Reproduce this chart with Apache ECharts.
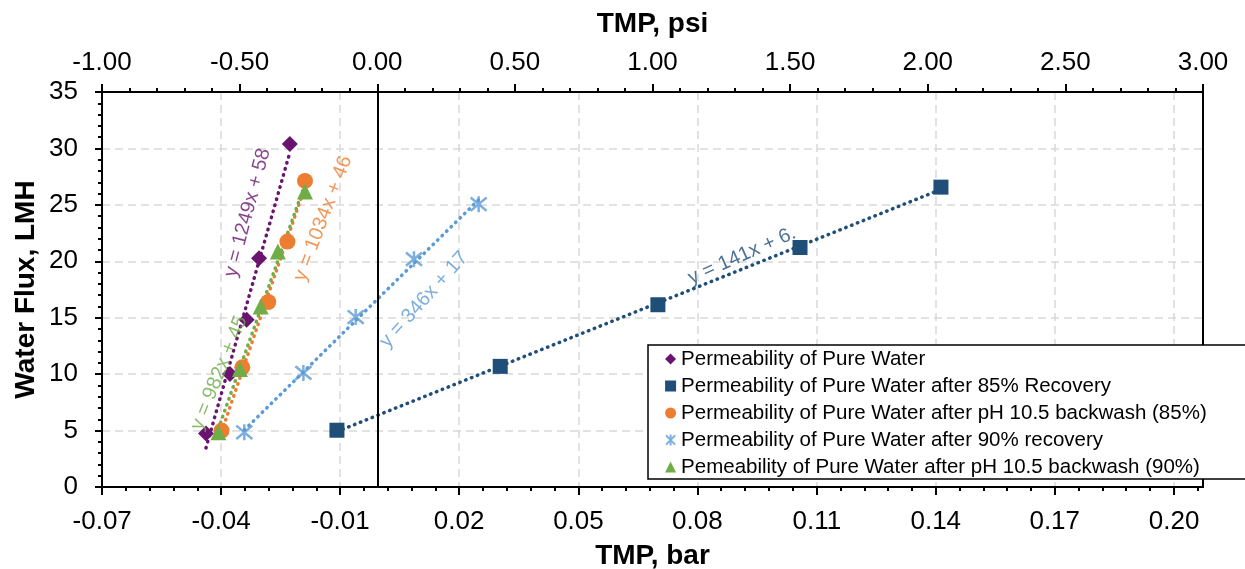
<!DOCTYPE html>
<html>
<head>
<meta charset="utf-8">
<script src="https://cdn.jsdelivr.net/npm/echarts@6/dist/echarts.min.js"></script>
<style>
html,body{margin:0;padding:0;background:#fff;}
#chart{width:1245px;height:569px;}
</style>
</head>
<body>
<div id="chart"></div>
<script>
// ---------- DATA (TMP in bar, flux in LMH) ----------
const seriesNames = [
  'Permeability of Pure Water',
  'Permeability of Pure Water after 85% Recovery',
  'Permeability of Pure Water after pH 10.5 backwash (85%)',
  'Permeability of Pure Water after 90% recovery',
  'Pemeability of Pure Water after pH 10.5 backwash (90%)'
];
const pureX  = [-0.0429, -0.0369, -0.0327, -0.0296, -0.0219];
const pureY  = [4.73, 10.02, 14.82, 20.28, 30.40];
const rec85X = [-0.0101, 0.0308, 0.0703, 0.1059, 0.1412];
const rec85Y = [5.03, 10.69, 16.15, 21.22, 26.57];
const bw85X  = [-0.0390, -0.0338, -0.0273, -0.0225, -0.0181];
const bw85Y  = [5.00, 10.60, 16.39, 21.75, 27.12];
const rec90X = [-0.0333, -0.0185, -0.0054, 0.0092, 0.0254];
const rec90Y = [4.85, 10.11, 15.06, 20.19, 25.06];
const bw90X  = [-0.0398, -0.0344, -0.0292, -0.0249, -0.0181];
const bw90Y  = [4.85, 10.46, 16.00, 20.87, 26.18];

// trendline equation labels (text and anchor in data coords)
const trendTexts  = ['y = 1249x + 58', 'y = 141x + 6.', 'y = 1034x + 46', 'y = 346x + 17', 'y = 982x + 45'];
const trendLabelX = [-0.0325, 0.0914, -0.0136, 0.0117, -0.0396];
const trendLabelY = [24.3, 20.5, 23.8, 16.6, 10.1];
const trendLabelAngle = [75, 24, 69, 48, 68];

// axes: bottom in bar (= -1..3 psi), top in psi
const barMin = -0.0689476, barMax = 0.2068427;
const barTickValues = [-0.0689, -0.0391, -0.0093, 0.0205, 0.0504, 0.0802, 0.1101, 0.1399, 0.1697, 0.1996];
const barTickLabels = ['-0.07', '-0.04', '-0.01', '0.02', '0.05', '0.08', '0.11', '0.14', '0.17', '0.20'];
const psiMin = -1, psiMax = 3, psiStep = 0.5;
const fluxMin = 0, fluxMax = 35, fluxStep = 5;

// ---------- STYLE ----------
const colors  = ['#6A1470', '#1F4E79', '#ED7D31', '#5B9BD5', '#70AD47'];
const starPath = 'path://M0 0L10 10M10 0L0 10M5 -1L5 11';
const symbols = ['diamond', 'rect', 'circle', starPath, 'triangle'];
const legendIcons = [
  'path://M5 0L10 5L5 10L0 5Z',
  'path://M0 0L10 0L10 10L0 10Z',
  'circle',
  starPath,
  'path://M5 0L10 10L0 10Z'
];
const sizes   = [16, 15, 16, 16, 16];
const FONT = 'Liberation Sans, Arial, sans-serif';

const xs = [pureX, rec85X, bw85X, rec90X, bw90X];
const ys = [pureY, rec85Y, bw85Y, rec90Y, bw90Y];

function linreg(x, y) {
  const n = x.length;
  let mx = 0, my = 0;
  for (let i = 0; i < n; i++) { mx += x[i]; my += y[i]; }
  mx /= n; my /= n;
  let sxy = 0, sxx = 0;
  for (let i = 0; i < n; i++) { sxy += (x[i]-mx)*(y[i]-my); sxx += (x[i]-mx)*(x[i]-mx); }
  const b = sxy / sxx;
  return { b: b, a: my - b*mx };
}

// minor tick positions between the major bar ticks
const barMinor = [];
const barStep = barTickValues[1] - barTickValues[0];
for (let i = 0; i < barTickValues.length; i++) {
  for (let k = 1; k < 5; k++) {
    const v = barTickValues[i] + k*barStep/5;
    if (v < barMax) barMinor.push(v);
  }
}

const series = [];
// trendlines
xs.forEach((x, i) => {
  const r = linreg(x, ys[i]);
  const x0 = Math.min.apply(null, x), x1 = Math.max.apply(null, x);
  series.push({
    name: 'trend' + i, type: 'line', xAxisIndex: 0, yAxisIndex: 0,
    data: [[x0, r.a + r.b*x0], [x1, r.a + r.b*x1]],
    showSymbol: false, symbol: 'none', silent: true, z: 2,
    lineStyle: { color: colors[i], width: 3.5, type: [0.5, 5.8], cap: 'round' }
  });
});
// markers
xs.forEach((x, i) => {
  const s = {
    name: seriesNames[i], type: 'scatter', xAxisIndex: 0, yAxisIndex: 0,
    data: x.map((v, j) => [v, ys[i][j]]),
    symbol: symbols[i], symbolSize: sizes[i], z: 3,
    itemStyle: { color: colors[i], opacity: 1 }
  };
  if (i === 3) {
    s.itemStyle = { color: colors[i], borderColor: colors[i], borderWidth: 2.5 };
  }
  if (i === 0) {
    s.markLine = {
      silent: true, symbol: ['none', 'none'], label: { show: false },
      lineStyle: { color: '#000', width: 2, type: 'solid' },
      emphasis: { disabled: true },
      data: [{ xAxis: 0 }]
    };
  }
  series.push(s);
});
// trendline equation labels
series.push({
  name: 'trendLabels', type: 'scatter', xAxisIndex: 0, yAxisIndex: 0,
  symbolSize: 0, silent: true, z: 4,
  data: trendTexts.map((t, i) => ({
    value: [trendLabelX[i], trendLabelY[i]],
    label: {
      show: true, position: 'inside', formatter: t, rotate: trendLabelAngle[i],
      color: colors[i], fontSize: 20, fontFamily: FONT
    }
  }))
});

const axisLineStyle = { color: '#000', width: 2 };
const tickFont = { fontSize: 26, color: '#000', fontFamily: FONT };
const nameFont = { fontSize: 28, fontWeight: 'bold', color: '#000', fontFamily: FONT };
const gridLine = { show: true, lineStyle: { color: '#D9D9D9', width: 1.5, type: [8, 5] } };

const option = {
  animation: false,
  backgroundColor: '#fff',
  grid: { left: 102, right: 42, top: 92, bottom: 82, show: true, borderColor: '#000', borderWidth: 2,
          containLabel: false, outerBoundsMode: 'none' },
  legend: {
    data: seriesNames.map((n, i) => ({ name: n, icon: legendIcons[i] })),
    orient: 'vertical', left: 648, top: 345,
    itemWidth: 11, itemHeight: 11, itemGap: 5,
    padding: [3, 80, 1, 17],
    borderColor: '#000', borderWidth: 1.5, backgroundColor: '#fff',
    textStyle: { fontSize: 20.5, lineHeight: 22, color: '#000', fontFamily: FONT },
    selectedMode: false
  },
  xAxis: [
    {
      type: 'value', position: 'bottom', min: barMin, max: barMax,
      name: 'TMP, bar', nameLocation: 'middle', nameGap: 55, nameTextStyle: nameFont, nameMoveOverlap: false,
      axisLine: { show: true, onZero: false, lineStyle: axisLineStyle },
      axisTick: { show: true, inside: false, customValues: barTickValues, length: 8, lineStyle: axisLineStyle },
      axisLabel: Object.assign({
        customValues: barTickValues, margin: 22, hideOverlap: false,
        formatter: function (v) {
          let best = 0;
          for (let i = 1; i < barTickValues.length; i++)
            if (Math.abs(barTickValues[i]-v) < Math.abs(barTickValues[best]-v)) best = i;
          return barTickLabels[best];
        }
      }, tickFont),
      splitLine: gridLine
    },
    {
      type: 'value', position: 'top', min: psiMin, max: psiMax, interval: psiStep,
      name: 'TMP, psi', nameLocation: 'middle', nameGap: 54, nameTextStyle: nameFont, nameMoveOverlap: false,
      axisLine: { show: true, onZero: false, lineStyle: axisLineStyle },
      axisTick: { show: true, inside: false, length: 8, lineStyle: axisLineStyle },
      minorTick: { show: true, splitNumber: 5, length: 4, lineStyle: { color: '#000', width: 2 } },
      axisLabel: Object.assign({ margin: 16, formatter: v => v.toFixed(2) }, tickFont),
      splitLine: { show: false }
    },
    {
      type: 'value', position: 'bottom', min: barMin, max: barMax,
      axisLine: { show: false, onZero: false },
      axisTick: { show: true, inside: false, customValues: barMinor, length: 4, lineStyle: { color: '#000', width: 2 } },
      axisLabel: { show: false },
      splitLine: { show: false }
    }
  ],
  yAxis: [
    {
      type: 'value', min: fluxMin, max: fluxMax, interval: fluxStep, position: 'left',
      name: 'Water Flux, LMH', nameLocation: 'middle', nameGap: 62, nameTextStyle: nameFont, nameMoveOverlap: false,
      axisLine: { show: true, onZero: false, lineStyle: axisLineStyle },
      axisTick: { show: true, inside: false, length: 7, lineStyle: axisLineStyle },
      minorTick: { show: true, splitNumber: 5, length: 4, lineStyle: { color: '#000', width: 2 } },
      axisLabel: Object.assign({ margin: 24 }, tickFont),
      splitLine: gridLine
    }
  ],
  series: series
};

const chart = echarts.init(document.getElementById('chart'), null, { renderer: 'canvas' });
chart.setOption(option);
</script>
</body>
</html>
